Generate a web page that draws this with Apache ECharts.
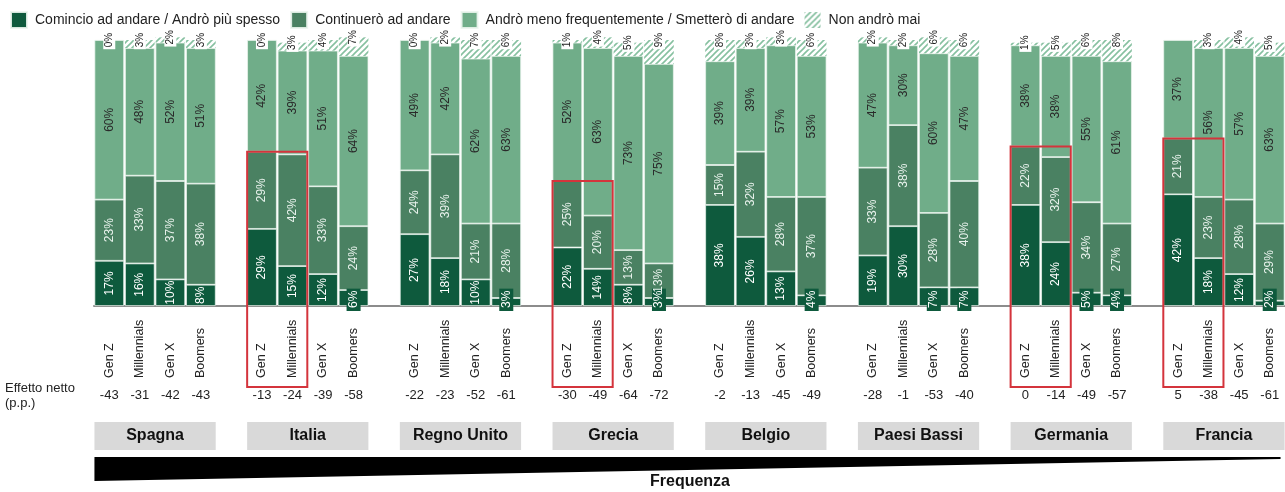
<!DOCTYPE html>
<html>
<head>
<meta charset="utf-8">
<script src="https://cdn.jsdelivr.net/npm/echarts@6/dist/echarts.min.js"></script>
<style>
html, body { margin: 0; padding: 0; background: #fff; }
#chart { width: 1285px; height: 492px; }
</style>
</head>
<body>
<div id="chart"></div>
<script>
// dati (%)
const paesi = ['Spagna', 'Italia', 'Regno Unito', 'Grecia', 'Belgio', 'Paesi Bassi', 'Germania', 'Francia'];
const generazioni = ['Gen Z', 'Millennials', 'Gen X', 'Boomers'];
const comincio = [17, 16, 10, 8, 29, 15, 12, 6, 27, 18, 10, 3, 22, 14, 8, 3, 38, 26, 13, 4, 19, 30, 7, 7, 38, 24, 5, 4, 42, 18, 12, 2];
const continuero = [23, 33, 37, 38, 29, 42, 33, 24, 24, 39, 21, 28, 25, 20, 13, 13, 15, 32, 28, 37, 33, 38, 28, 40, 22, 32, 34, 27, 21, 23, 28, 29];
const meno = [60, 48, 52, 51, 42, 39, 51, 64, 49, 42, 62, 63, 52, 63, 73, 75, 39, 39, 57, 53, 47, 30, 60, 47, 38, 38, 55, 61, 37, 56, 57, 63];
const mai = [0, 3, 2, 3, 0, 3, 4, 7, 0, 2, 7, 6, 1, 4, 5, 9, 8, 3, 3, 6, 2, 2, 6, 6, 1, 5, 6, 8, null, 3, 4, 5];
const effettoNetto = [-43, -31, -42, -43, -13, -24, -39, -58, -22, -23, -52, -61, -30, -49, -64, -72, -2, -13, -45, -49, -28, -1, -53, -40, 0, -14, -49, -57, 5, -38, -45, -61];
// paesi con Gen Z e Millennials evidenziati
const evidenziati = ['Italia', 'Grecia', 'Germania', 'Francia'];

const nomiSerie = ['Comincio ad andare / Andrò più spesso', 'Continuerò ad andare', 'Andrò meno frequentemente / Smetterò di andare', 'Non andrò mai'];
const colori = ['#0e5a3d', '#4a8162', '#70ad89'];
const font = "'Liberation Sans', Arial, sans-serif";

// una colonna vuota tra un paese e l'altro
const slots = [];
const slotIdx = [];
paesi.forEach((p, g) => {
    generazioni.forEach(gen => {
        slotIdx.push(slots.length);
        slots.push(p + '|' + gen);
    });
    if (g < paesi.length - 1) slots.push('vuoto' + g + '|');
});
const nettoSlot = slots.map(() => '');
effettoNetto.forEach((v, i) => { nettoSlot[slotIdx[i]] = String(v); });

function spread(arr, fn) {
    const out = slots.map(() => '-');
    arr.forEach((v, i) => {
        if (v === null) return;
        out[slotIdx[i]] = fn ? fn(v) : v;
    });
    return out;
}

// tratteggio per "Non andrò mai"
const pat = document.createElement('canvas');
pat.width = 6; pat.height = 6;
const ctx = pat.getContext('2d');
ctx.fillStyle = '#ffffff';
ctx.fillRect(0, 0, 6, 6);
ctx.strokeStyle = '#86c0a0';
ctx.lineWidth = 1.6;
ctx.beginPath();
ctx.moveTo(-3, 3); ctx.lineTo(3, -3);
ctx.moveTo(0, 6); ctx.lineTo(6, 0);
ctx.moveTo(3, 9); ctx.lineTo(9, 3);
ctx.stroke();

const bordo = { borderColor: 'rgba(235,245,238,0.9)', borderWidth: 0.8 };

const chart = echarts.init(document.getElementById('chart'));
chart.setOption({
    animation: false,
    textStyle: { fontFamily: font },
    legend: {
        left: 5,
        top: 6,
        itemWidth: 16,
        itemHeight: 16,
        itemGap: 10,
        icon: 'rect',
        textStyle: { fontSize: 14, color: '#222', padding: [0, 0, 0, 3] },
        data: nomiSerie
    },
    grid: { left: 94, right: 0, top: 40, bottom: 186, outerBoundsMode: 'none' },
    xAxis: [{
        type: 'category',
        data: slots,
        axisLine: { lineStyle: { color: '#8c8c8c', width: 2 } },
        axisTick: { show: false },
        axisLabel: {
            interval: 0,
            rotate: 90,
            align: 'left',
            verticalAlign: 'middle',
            margin: 72,
            fontSize: 12.5,
            color: '#222',
            formatter: v => v.split('|')[1]
        }
    }, {
        type: 'category',
        data: slots,
        position: 'bottom',
        offset: 89,
        axisLine: { show: false },
        axisTick: { show: false },
        axisLabel: {
            interval: 0,
            margin: 0,
            verticalAlign: 'middle',
            fontSize: 13,
            color: '#222',
            formatter: (v, i) => nettoSlot[i]
        }
    }],
    yAxis: { type: 'value', min: 0, max: 100, show: false },
    series: [{
        name: nomiSerie[0],
        type: 'bar',
        stack: 'tot',
        barCategoryGap: '3%',
        clip: false,
        itemStyle: Object.assign({ color: colori[0] }, bordo),
        label: { show: true, position: 'inside', rotate: 90, fontSize: 12, color: '#fff', formatter: '{c}%' },
        data: spread(comincio, v => v < 8 ? {
            value: v,
            label: {
                position: ['50%', '100%'],
                offset: [-5, 0],
                align: 'left',
                verticalAlign: 'middle',
                backgroundColor: colori[0],
                padding: [1, 2, 1, 3]
            }
        } : v)
    }, {
        name: nomiSerie[1],
        type: 'bar',
        stack: 'tot',
        clip: false,
        itemStyle: Object.assign({ color: colori[1] }, bordo),
        label: { show: true, position: 'inside', rotate: 90, fontSize: 12, color: '#e8f2ec', formatter: '{c}%' },
        data: spread(continuero)
    }, {
        name: nomiSerie[2],
        type: 'bar',
        stack: 'tot',
        clip: false,
        itemStyle: Object.assign({ color: colori[2] }, bordo),
        label: { show: true, position: 'inside', rotate: 90, fontSize: 12, color: '#2a2a2a', formatter: '{c}%' },
        data: spread(meno)
    }, {
        name: nomiSerie[3],
        type: 'bar',
        stack: 'tot',
        clip: false,
        itemStyle: { color: { image: pat, repeat: 'repeat' } },
        label: {
            show: true,
            position: ['50%', 0],
            rotate: 90,
            align: 'center',
            verticalAlign: 'middle',
            fontSize: 10,
            color: '#222',
            backgroundColor: '#fff',
            padding: [1, 2],
            formatter: '{c}%'
        },
        data: spread(mai)
    }]
});

// elementi grafici posizionati con le scale del grafico
const cx = i => chart.convertToPixel({ xAxisIndex: 0 }, i);
const cy = v => chart.convertToPixel({ yAxisIndex: 0 }, v);
const slotW = cx(1) - cx(0);
const barW = slotW * 0.97;
const elementi = [];

paesi.forEach((p, g) => {
    const x0 = cx(slotIdx[g * 4]) - barW / 2;
    const x1 = cx(slotIdx[g * 4 + 3]) + barW / 2;
    elementi.push({
        type: 'rect',
        shape: { x: x0, y: 422, width: x1 - x0, height: 28 },
        style: { fill: '#d9d9d9' }
    }, {
        type: 'text',
        x: (x0 + x1) / 2,
        y: 436,
        style: { text: p, fill: '#111', font: 'bold 16px ' + font, align: 'center', verticalAlign: 'middle' }
    });
    if (evidenziati.includes(p)) {
        const a = g * 4, b = g * 4 + 1;
        const top = Math.max(comincio[a] + continuero[a], comincio[b] + continuero[b]);
        const y0 = cy(top);
        const bx0 = cx(slotIdx[a]) - barW / 2;
        const bx1 = cx(slotIdx[b]) + barW / 2;
        elementi.push({
            type: 'rect',
            z: 100,
            shape: { x: bx0, y: y0, width: bx1 - bx0, height: 387 - y0 },
            style: { fill: 'none', stroke: '#d4343c', lineWidth: 2 }
        });
    }
});

const xa = cx(slotIdx[0]) - barW / 2;
const xb = cx(slotIdx[slotIdx.length - 1]) + barW / 2 - 4;
elementi.push({
    type: 'polygon',
    shape: { points: [[xa, 457], [xb, 457], [xb, 459], [xa, 481]] },
    style: { fill: '#000' }
}, {
    type: 'text',
    x: 690,
    y: 482,
    style: { text: 'Frequenza', fill: '#111', font: 'bold 16px ' + font, align: 'center', verticalAlign: 'middle' }
}, {
    type: 'text',
    x: 5,
    y: 381,
    style: { text: 'Effetto netto\n(p.p.)', fill: '#222', font: '13px ' + font, lineHeight: 15 }
});

chart.setOption({ graphic: elementi });
window.addEventListener('resize', () => chart.resize());
</script>
</body>
</html>
